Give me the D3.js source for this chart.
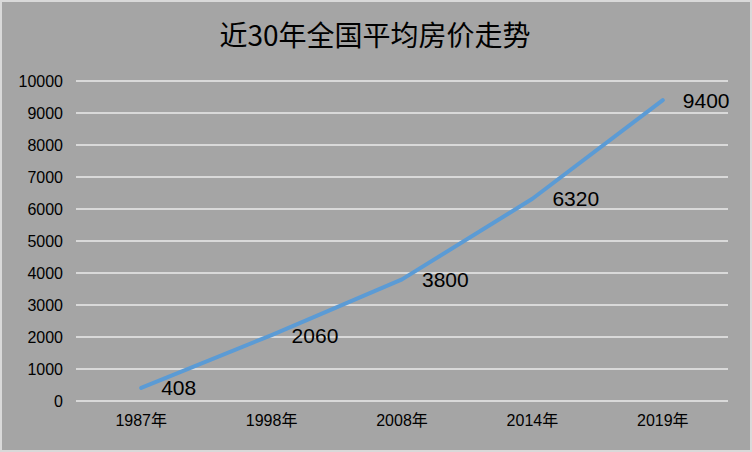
<!DOCTYPE html>
<html>
<head>
<meta charset="utf-8">
<script src="https://cdn.jsdelivr.net/npm/d3@7"></script>
<style>
  html, body { margin: 0; padding: 0; background: #d9d9d9; }
  svg { display: block; }
</style>
</head>
<body>
<svg id="chart" width="752" height="452"></svg>
<script>
const title = "近30年全国平均房价走势";
const categories = ["1987年", "1998年", "2008年", "2014年", "2019年"];
const values = [408, 2060, 3800, 6320, 9400];
const yTicks = [0, 1000, 2000, 3000, 4000, 5000, 6000, 7000, 8000, 9000, 10000];

const svg = d3.select("#chart");
const W = 752, H = 452;
const plot = { left: 76, right: 728, top: 81, bottom: 401 };

svg.append("rect").attr("x", 0).attr("y", 0).attr("width", W).attr("height", H).attr("fill", "#d9d9d9");
svg.append("rect").attr("x", 2).attr("y", 2).attr("width", W - 4).attr("height", H - 4).attr("fill", "#a5a5a5");

const x = d3.scaleBand().domain(categories).range([plot.left, plot.right]);
const y = d3.scaleLinear().domain([0, 10000]).range([plot.bottom, plot.top]);

// title
svg.append("text")
  .attr("x", 375).attr("y", 34)
  .attr("text-anchor", "middle").attr("dominant-baseline", "central")
  .attr("font-family", "'Noto Sans CJK SC', sans-serif")
  .attr("font-size", 28).attr("fill", "#000")
  .text(title);

// gridlines
svg.append("g").selectAll("line").data(yTicks).join("line")
  .attr("x1", plot.left).attr("x2", plot.right)
  .attr("y1", d => y(d)).attr("y2", d => y(d))
  .attr("stroke", "#d9d9d9").attr("stroke-width", 2);

// y axis
const yAxis = d3.axisLeft(y).tickValues(yTicks).tickSize(0).tickPadding(13).tickFormat(d3.format("d"));
const gy = svg.append("g").attr("transform", `translate(${plot.left},0)`).call(yAxis);
gy.select(".domain").remove();
gy.selectAll("text")
  .attr("font-family", "'Liberation Sans', sans-serif")
  .attr("font-size", 16).attr("fill", "#000");

// x axis
const xAxis = d3.axisBottom(x).tickSize(0).tickPadding(14);
const gx = svg.append("g").attr("transform", `translate(0,${plot.bottom})`).call(xAxis);
gx.select(".domain").remove();
gx.selectAll("text")
  .attr("font-family", "'Liberation Sans', 'Noto Sans CJK SC', sans-serif")
  .attr("font-size", 16).attr("fill", "#000");

// line
const pts = categories.map((c, i) => ({ c, v: values[i] }));
const line = d3.line().x(d => x(d.c) + x.bandwidth() / 2).y(d => y(d.v));
svg.append("path").datum(pts)
  .attr("d", line)
  .attr("fill", "none")
  .attr("stroke", "#5b9bd5")
  .attr("stroke-width", 4)
  .attr("stroke-linejoin", "round")
  .attr("stroke-linecap", "round");

// data labels
svg.append("g").selectAll("text").data(pts).join("text")
  .attr("x", d => x(d.c) + x.bandwidth() / 2 + 20)
  .attr("y", d => y(d.v))
  .attr("dominant-baseline", "central")
  .attr("font-family", "'Liberation Sans', sans-serif")
  .attr("font-size", 21).attr("fill", "#000")
  .text(d => d.v);
</script>
</body>
</html>
